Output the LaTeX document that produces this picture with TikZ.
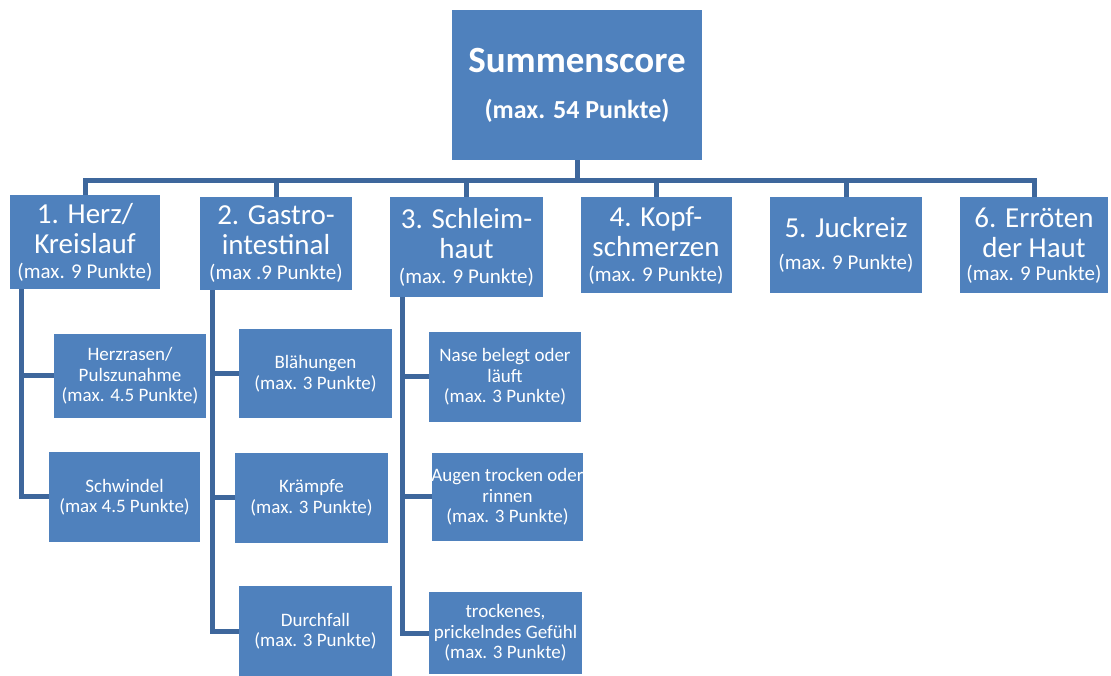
\documentclass[tikz,border=0pt]{standalone}
\usepackage{fontspec}
\setmainfont{Carlito}
\definecolor{boxblue}{RGB}{79,129,189}
\definecolor{lineblue}{RGB}{62,103,156}
\newcommand{\pkt}[1]{{\fontsize{21}{24}\selectfont #1}}

\begin{document}
\begin{tikzpicture}[x=1pt,y=1pt,
  every node/.style={fill=boxblue,text=white,align=flush center,inner sep=0pt},
  top/.style={text width=150pt,minimum height=96pt,anchor=north,font=\fontsize{29}{30}\selectfont},
  sub/.style={text width=152pt,minimum height=89pt,font=\fontsize{19}{20.5}\selectfont},
  conn/.style={draw=lineblue,line width=5pt}]
  \useasboundingbox (0,0) rectangle (1111,675);
  \node[minimum width=250pt,minimum height=150pt,font=\fontsize{26}{46}\selectfont\bfseries] (root) at (577,590)
    {{\fontsize{37}{46}\selectfont Summenscore}\\(max. 54 Punkte)};
  \node[top,minimum height=94pt] (h1) at (85,480) {1. Herz/\\Kreislauf\\[-5pt]\pkt{(max. 9 Punkte)}};
  \node[top,text width=152pt,minimum height=93pt] (h2) at (276,478) {2. Gastro-\\intestinal\\[-5pt]\pkt{(max .9 Punkte)}};
  \node[top,text width=153pt,minimum height=100pt] (h3) at (466.5,478) {3. Schleim-\\haut\\[-5pt]\pkt{(max. 9 Punkte)}};
  \node[top,text width=151pt] (h4) at (656,478) {4. Kopf-\\schmerzen\\[-5pt]\pkt{(max. 9 Punkte)}};
  \node[top,text width=152pt] (h5) at (846,478) {5. Juckreiz\\[2pt]\pkt{(max. 9 Punkte)}};
  \node[top,text width=148pt] (h6) at (1034,478) {6. Erröten\\der Haut\\[-7pt]\pkt{(max. 9 Punkte)}};
  \node[sub,minimum height=84pt] (s11) at (130,299) {Herzrasen/\\Pulszunahme\\(max. 4.5 Punkte)};
  \node[sub,text width=151pt,minimum height=90pt] (s12) at (124.5,178) {Schwindel\\(max 4.5 Punkte)};
  \node[sub,text width=153pt] (s21) at (315.5,301.5) {Blähungen\\(max. 3 Punkte)};
  \node[sub,text width=153pt,minimum height=90pt] (s22) at (311.5,177) {Krämpfe\\(max. 3 Punkte)};
  \node[sub,text width=153pt,minimum height=90pt] (s23) at (315.5,44) {Durchfall\\(max. 3 Punkte)};
  \node[sub,minimum height=90pt] (s31) at (505,298) {Nase belegt oder\\läuft\\(max. 3 Punkte)};
  \node[sub,text width=151pt,minimum height=88pt] (s32) at (507.5,178) {\makebox[\linewidth]{Augen trocken oder}\\rinnen\\(max. 3 Punkte)};
  \node[sub,text width=153pt,minimum height=82pt] (s33) at (505.5,42) {trockenes,\\prickelndes Gefühl\\(max. 3 Punkte)};
  \foreach \n in {h1,h2,h3,h4,h5,h6}
    \draw[conn] (root.south) -- ++(0,-20) -| (\n.north);
  \foreach \s in {s11,s12}
    \draw[conn] ([xshift=12pt]h1.south west) |- (\s.west);
  \foreach \s in {s21,s22,s23}
    \draw[conn] ([xshift=13pt]h2.south west) |- (\s.west);
  \foreach \s in {s31,s32,s33}
    \draw[conn] ([xshift=13pt]h3.south west) |- (\s.west);
\end{tikzpicture}
\end{document}
